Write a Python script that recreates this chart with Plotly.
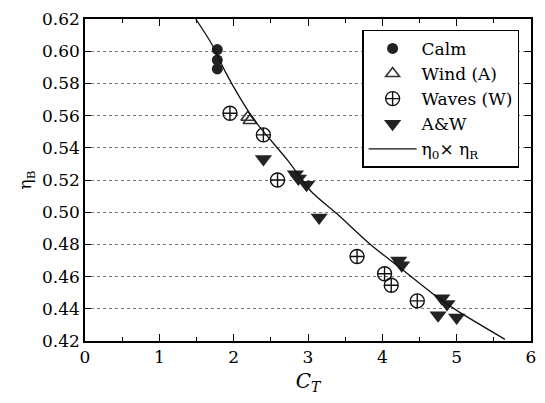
import plotly.graph_objects as go

# Measured propulsive efficiency vs. thrust loading coefficient
calm_ct = [1.78, 1.78, 1.78]
calm_eta = [0.601, 0.5945, 0.589]

wind_ct = [2.19, 2.22]
wind_eta = [0.559, 0.557]

waves_ct = [1.95, 2.40, 2.59, 3.66, 4.03, 4.12, 4.47]
waves_eta = [0.5615, 0.548, 0.520, 0.4725, 0.4618, 0.4546, 0.4449]

aw_ct = [2.40, 2.83, 2.87, 2.98, 3.15, 4.22, 4.26, 4.80, 4.87, 4.75, 5.00]
aw_eta = [0.533, 0.5235, 0.521, 0.517, 0.4967, 0.470, 0.467, 0.4465, 0.443, 0.436, 0.4346]

# eta_0 x eta_R curve
curve_ct = [1.49, 1.71, 1.89, 2.06, 2.28, 2.73, 3.04, 3.39, 3.84, 4.28, 4.72, 5.00, 5.65]
curve_eta = [0.620, 0.604, 0.587, 0.573, 0.557, 0.532, 0.513, 0.499, 0.480, 0.464, 0.448, 0.439, 0.421]

FONT = "DejaVu Serif"

fig = go.Figure()
fig.add_trace(go.Scatter(
    x=calm_ct, y=calm_eta, mode="markers", name="Calm",
    marker=dict(symbol="circle", size=11, color="#222")))
fig.add_trace(go.Scatter(
    x=wind_ct, y=wind_eta, mode="markers", name="Wind (A)",
    marker=dict(symbol="triangle-up-open", size=12, color="#333",
                line=dict(width=1.6, color="#333"))))
fig.add_trace(go.Scatter(
    x=waves_ct, y=waves_eta, mode="markers", name="Waves (W)",
    marker=dict(symbol="circle-cross-open", size=14, color="#111",
                line=dict(width=1.4, color="#111"))))
fig.add_trace(go.Scatter(
    x=aw_ct, y=aw_eta, mode="markers", name="A&W",
    marker=dict(symbol="triangle-down", size=15, color="#222")))
fig.add_trace(go.Scatter(
    x=curve_ct, y=curve_eta, mode="lines",
    name="η<sub>0</sub>× η<sub>R</sub>",
    line=dict(color="#111", width=1.3, shape="spline", smoothing=0.8)))
# helper trace so the top axis is drawn
fig.add_trace(go.Scatter(x=[0, 6], y=[0.42, 0.42], xaxis="x2", mode="lines",
                         line=dict(width=0), showlegend=False, hoverinfo="skip"))

axis_common = dict(showline=True, linecolor="black", linewidth=1.5,
                   ticks="inside", tickcolor="black", zeroline=False)

fig.update_layout(
    width=545, height=403,
    margin=dict(l=85, r=9, t=17, b=62),
    paper_bgcolor="white", plot_bgcolor="white",
    font=dict(family=FONT, size=17, color="black"),
    showlegend=True,
    legend=dict(x=0.622, y=0.967, xanchor="left", yanchor="top",
                bgcolor="white", bordercolor="black", borderwidth=1.2,
                font=dict(family=FONT, size=17), tracegroupgap=0,
                itemsizing="trace", itemwidth=48),
    xaxis=dict(range=[0, 6], dtick=1, tick0=0, ticklen=7, tickwidth=1.3,
               minor=dict(dtick=0.5, ticks="inside", ticklen=4, tickcolor="black"),
               showgrid=False, mirror=False,
               title=dict(text="<i>C</i><sub><i>T</i></sub>",
                          font=dict(family=FONT, size=20), standoff=8),
               **axis_common),
    xaxis2=dict(range=[0, 6], overlaying="x", side="top", dtick=1, tick0=0,
                ticklen=7, tickwidth=1.3, showticklabels=False,
                minor=dict(dtick=0.5, ticks="inside", ticklen=4, tickcolor="black"),
                showgrid=False, **axis_common),
    yaxis=dict(range=[0.42, 0.62], dtick=0.02, tick0=0.42, tickformat=".2f",
               ticklen=6, tickwidth=1.3, mirror="ticks",
               showgrid=True, gridcolor="#777", gridwidth=1, griddash="dot",
               title=dict(text="η<sub>B</sub>", font=dict(family=FONT, size=17),
                          standoff=6),
               **axis_common),
)

fig.write_html("out.html")
